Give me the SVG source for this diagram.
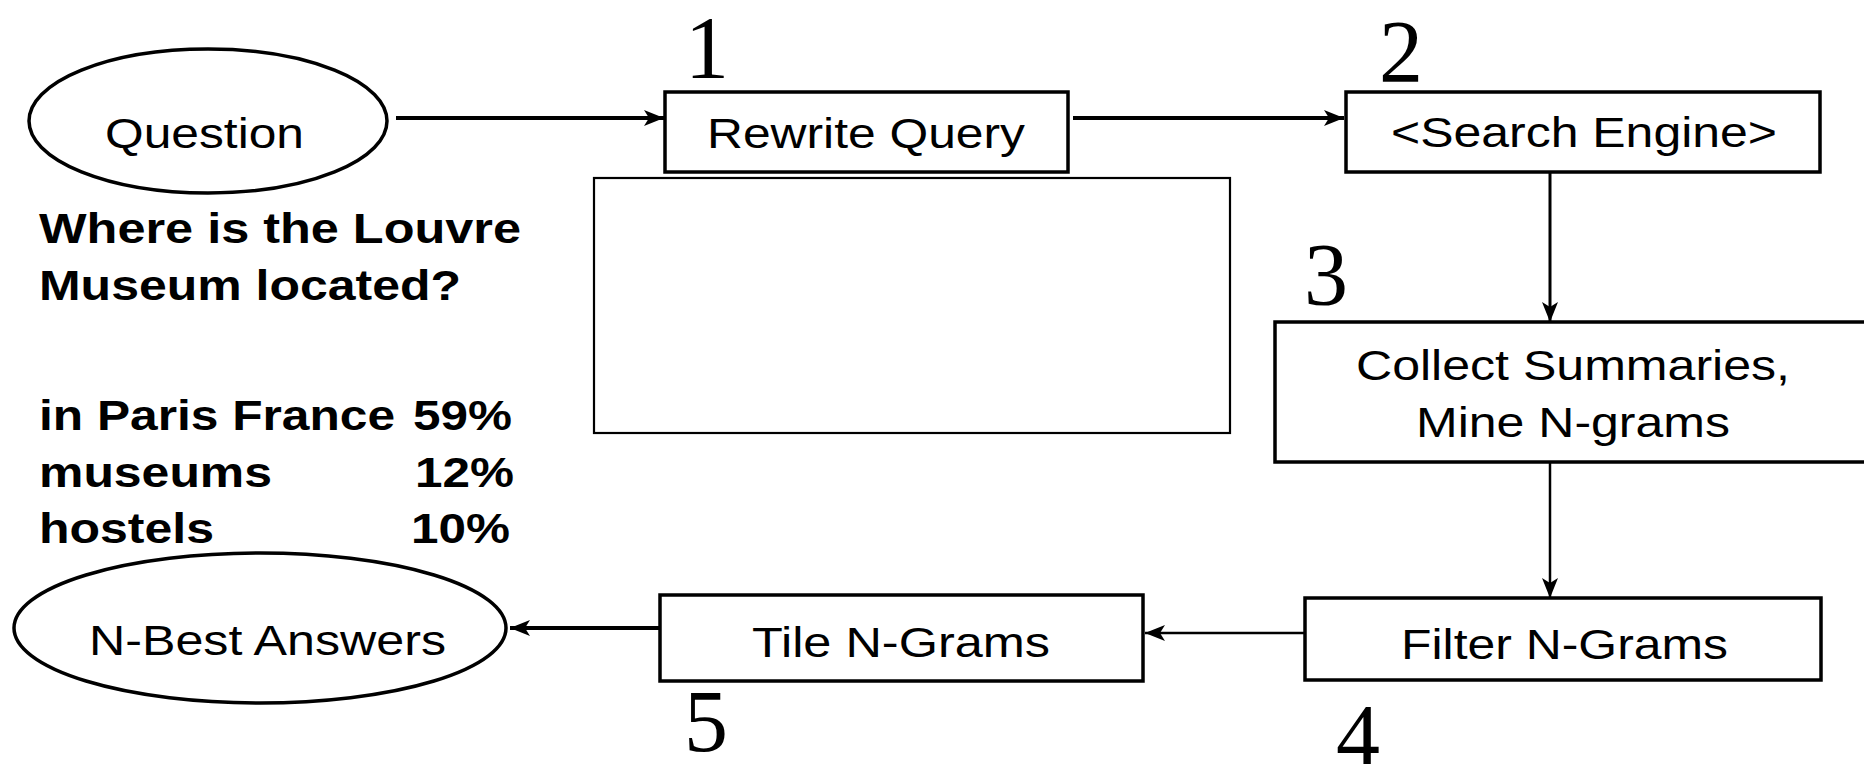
<svg xmlns="http://www.w3.org/2000/svg" width="1864" height="764" viewBox="0 0 1864 764">
  <style>
    .box { fill: #ffffff; stroke: #000000; stroke-width: 3.5; }
    .thin { fill: #ffffff; stroke: #000000; stroke-width: 2.2; }
    .oval { fill: #ffffff; stroke: #000000; stroke-width: 3.5; }
    .lbl { font-family: "Liberation Sans", Arial, sans-serif; font-size: 42px; fill: #000000; }
    .bold { font-family: "Liberation Sans", Arial, sans-serif; font-size: 42px; font-weight: bold; fill: #000000; }
    .num { font-family: "Liberation Serif", "Times New Roman", serif; font-size: 88px; fill: #000000; text-anchor: middle; }
    .wire { fill: none; stroke: #000000; }
  </style>
  <defs>
    <marker id="head" markerUnits="userSpaceOnUse" markerWidth="20" markerHeight="16" refX="20" refY="8" orient="auto">
      <path d="M0,0 L20,8 L0,16 L5,8 z" fill="#000000"/>
    </marker>
  </defs>

  <rect width="1864" height="764" fill="#ffffff"/>

  <!-- connectors -->
  <g id="connectors">
    <line class="wire" x1="396" y1="118" x2="664" y2="118" stroke-width="4" marker-end="url(#head)"/>
    <line class="wire" x1="1073" y1="118" x2="1344" y2="118" stroke-width="4" marker-end="url(#head)"/>
    <line class="wire" x1="1550" y1="173" x2="1550" y2="322" stroke-width="3" marker-end="url(#head)"/>
    <line class="wire" x1="1550" y1="463" x2="1550" y2="598" stroke-width="2.5" marker-end="url(#head)"/>
    <line class="wire" x1="1304" y1="633" x2="1145" y2="633" stroke-width="2.5" marker-end="url(#head)"/>
    <line class="wire" x1="660" y1="628" x2="510" y2="628" stroke-width="4" marker-end="url(#head)"/>
  </g>

  <g id="question">
    <ellipse class="oval" cx="208" cy="121" rx="179" ry="72"/>
    <text class="lbl" x="105" y="148" textLength="199" lengthAdjust="spacingAndGlyphs">Question</text>
  </g>

  <g id="rewrite-query">
    <rect class="box" x="665" y="92" width="403" height="80"/>
    <text class="lbl" x="707" y="148" textLength="318" lengthAdjust="spacingAndGlyphs">Rewrite Query</text>
    <text class="num" x="707" y="77">1</text>
  </g>

  <g id="search-engine">
    <rect class="box" x="1346" y="92" width="474" height="80"/>
    <text class="lbl" x="1391" y="147" textLength="386" lengthAdjust="spacingAndGlyphs">&lt;Search Engine&gt;</text>
    <text class="num" x="1401" y="81">2</text>
  </g>

  <g id="blank-panel">
    <rect class="thin" x="594" y="178" width="636" height="255"/>
  </g>

  <g id="collect-summaries">
    <rect class="box" x="1275" y="322" width="620" height="140"/>
    <text class="lbl" x="1356" y="380" textLength="434" lengthAdjust="spacingAndGlyphs">Collect Summaries,</text>
    <text class="lbl" x="1416" y="437" textLength="314" lengthAdjust="spacingAndGlyphs">Mine N-grams</text>
    <text class="num" x="1326" y="304">3</text>
  </g>

  <g id="filter-ngrams">
    <rect class="box" x="1305" y="598" width="516" height="82"/>
    <text class="lbl" x="1401" y="659" textLength="327" lengthAdjust="spacingAndGlyphs">Filter N-Grams</text>
    <text class="num" x="1358" y="765">4</text>
  </g>

  <g id="tile-ngrams">
    <rect class="box" x="660" y="595" width="483" height="86"/>
    <text class="lbl" x="752" y="657" textLength="298" lengthAdjust="spacingAndGlyphs">Tile N-Grams</text>
    <text class="num" x="706" y="751">5</text>
  </g>

  <g id="nbest-answers">
    <ellipse class="oval" cx="260" cy="628" rx="246" ry="75"/>
    <text class="lbl" x="89" y="655" textLength="357" lengthAdjust="spacingAndGlyphs">N-Best Answers</text>
  </g>

  <!-- worked example -->
  <g id="example">
    <text class="bold" x="39" y="243" textLength="482" lengthAdjust="spacingAndGlyphs">Where is the Louvre</text>
    <text class="bold" x="39" y="300" textLength="422" lengthAdjust="spacingAndGlyphs">Museum located?</text>
    <text class="bold" x="39" y="430" textLength="356" lengthAdjust="spacingAndGlyphs">in Paris France</text>
    <text class="bold" x="413" y="430" textLength="99" lengthAdjust="spacingAndGlyphs">59%</text>
    <text class="bold" x="39" y="487" textLength="233" lengthAdjust="spacingAndGlyphs">museums</text>
    <text class="bold" x="415" y="487" textLength="99" lengthAdjust="spacingAndGlyphs">12%</text>
    <text class="bold" x="39" y="543" textLength="175" lengthAdjust="spacingAndGlyphs">hostels</text>
    <text class="bold" x="411" y="543" textLength="99" lengthAdjust="spacingAndGlyphs">10%</text>
  </g>
</svg>
